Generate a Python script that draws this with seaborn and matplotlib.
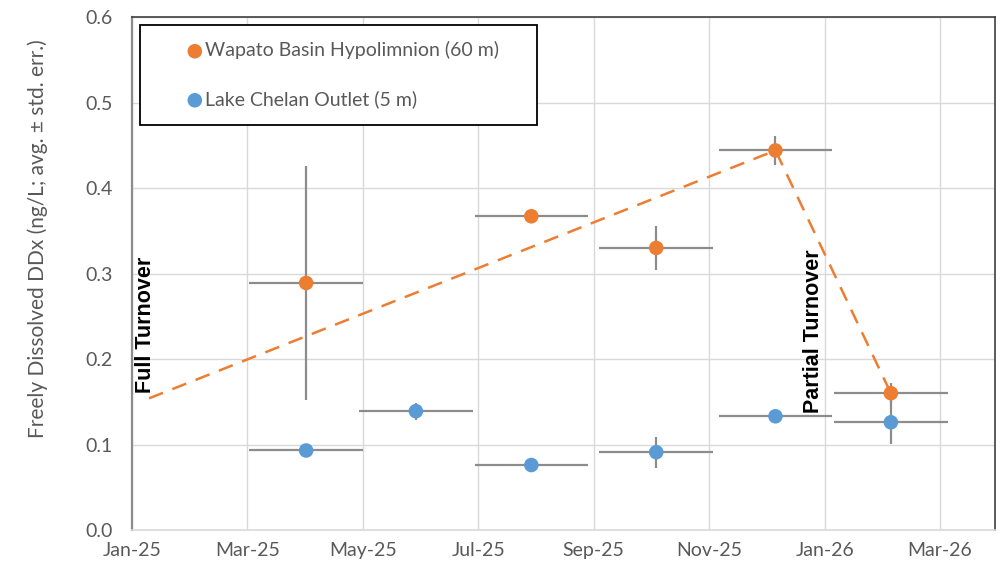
import pandas as pd
import numpy as np
import matplotlib
matplotlib.use("Agg")
import matplotlib.pyplot as plt
import matplotlib.dates as mdates
from matplotlib.patches import Rectangle
import seaborn as sns

# Wapato Basin Hypolimnion (60 m)
wapato_dates = ["2025-04-03", "2025-07-31", "2025-10-05", "2025-12-07", "2026-02-06"]
wapato_vals = [0.289, 0.367, 0.330, 0.444, 0.160]
wapato_yerr = [0.137, 0.0, 0.026, 0.017, 0.012]

# Lake Chelan Outlet (5 m)
chelan_dates = ["2025-04-03", "2025-05-31", "2025-07-31", "2025-10-05", "2025-12-07", "2026-02-06"]
chelan_vals = [0.093, 0.139, 0.076, 0.091, 0.133, 0.126]
chelan_yerr = [0.0, 0.010, 0.0, 0.018, 0.0, 0.025]

xerr_days = 30

# turnover trend line
trend_dates = ["2025-01-10", "2025-12-07", "2026-02-06"]
trend_vals = [0.154, 0.444, 0.160]

tick_start = "2025-01-01"
tick_step_days = 61
n_ticks = 8

orange = "#ED7D31"
blue = "#5B9BD5"
text_gray = "#595959"

sns.set_theme(style="whitegrid")
plt.rcParams["font.family"] = ["Lato", "DejaVu Sans"]

wapato = pd.DataFrame({"date": pd.to_datetime(wapato_dates), "val": wapato_vals, "err": wapato_yerr})
chelan = pd.DataFrame({"date": pd.to_datetime(chelan_dates), "val": chelan_vals, "err": chelan_yerr})
trend = pd.DataFrame({"date": pd.to_datetime(trend_dates), "val": trend_vals})

fig = plt.figure(figsize=(10.04, 5.7), dpi=100)
ax = fig.add_axes([0.1315, 0.0702, 0.8595, 0.8998])

# error bars first so markers sit on top
for df in (wapato, chelan):
    ax.errorbar(mdates.date2num(df["date"]), df["val"], yerr=df["err"],
                xerr=xerr_days, fmt="none", ecolor="#8c8c8c", elinewidth=1.6,
                capsize=0, zorder=2)

sns.lineplot(data=trend, x="date", y="val", ax=ax, color=orange, lw=1.8,
             zorder=3, legend=False)
ax.lines[-1].set_dashes((6, 4))

sns.scatterplot(data=wapato, x="date", y="val", ax=ax, color=orange, s=110,
                edgecolor="none", zorder=4, label="Wapato Basin Hypolimnion (60 m)")
sns.scatterplot(data=chelan, x="date", y="val", ax=ax, color=blue, s=110,
                edgecolor="none", zorder=4, label="Lake Chelan Outlet (5 m)")

start = pd.Timestamp(tick_start)
ticks = [start + pd.Timedelta(days=tick_step_days * k) for k in range(n_ticks)]
ax.set_xticks(mdates.date2num(ticks))
ax.xaxis.set_major_formatter(mdates.DateFormatter("%b-%y"))
ax.set_xlim(mdates.date2num(start), mdates.date2num(start + pd.Timedelta(days=456)))
ax.set_ylim(0, 0.6)
ax.set_yticks(np.arange(0, 0.61, 0.1))
ax.yaxis.set_major_formatter(matplotlib.ticker.FormatStrFormatter("%.1f"))

ax.set_xlabel("")
ax.set_ylabel("Freely Dissolved DDx (ng/L; avg. ± std. err.)", fontsize=15,
              color=text_gray)
ax.yaxis.set_label_coords(-0.097, 0.569)
ax.tick_params(axis="both", labelsize=14, colors=text_gray, length=0)
ax.tick_params(axis="y", pad=14)
ax.tick_params(axis="x", pad=9)
ax.grid(True, color="#d9d9d9", lw=1)

ax.spines["left"].set_color("#8c8c8c")
ax.spines["left"].set_linewidth(1.6)
ax.spines["bottom"].set_color("#d9d9d9")
ax.spines["bottom"].set_linewidth(1.2)
for s in ("top", "right"):
    ax.spines[s].set_color("#404040")
    ax.spines[s].set_linewidth(1.2)

note_font = ["Liberation Sans", "DejaVu Sans"]
ax.text(mdates.date2num(pd.Timestamp("2025-01-08")), 0.160, "Full Turnover",
        rotation=90, fontsize=15.5, fontweight="bold", color="black",
        family=note_font, ha="center", va="bottom")
ax.text(mdates.date2num(pd.Timestamp("2025-12-27")), 0.137, "Partial Turnover",
        rotation=90, fontsize=15.5, fontweight="bold", color="black",
        family=note_font, ha="center", va="bottom")

# legend box
ax.add_patch(Rectangle((0.0093, 0.789), 0.46, 0.195, transform=ax.transAxes,
                       facecolor="white", edgecolor="black", lw=1.3, zorder=5))
leg = ax.legend(loc="upper left", bbox_to_anchor=(0.057, 0.968), frameon=False,
                fontsize=14, labelspacing=1.6, handlelength=0.6,
                handletextpad=0.2, borderaxespad=0)
leg.set_zorder(6)
for t in leg.get_texts():
    t.set_color(text_gray)

fig.savefig("out.png", dpi=100)
